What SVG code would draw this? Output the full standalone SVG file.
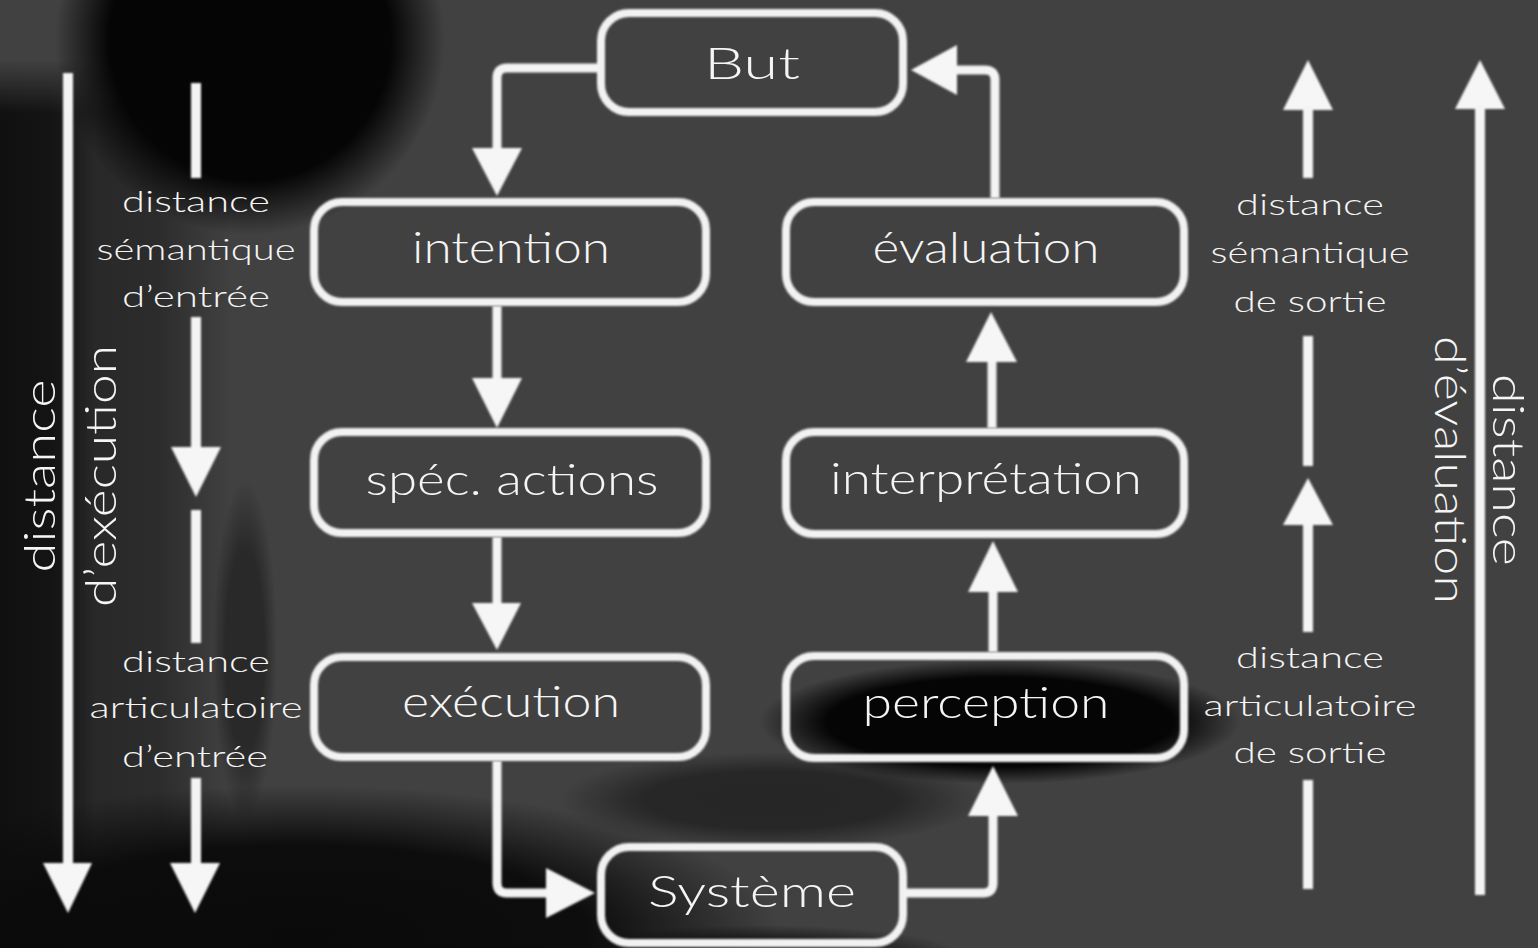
<svg xmlns="http://www.w3.org/2000/svg" width="1538" height="948" viewBox="0 0 1538 948">
  <defs>
    <radialGradient id="fadeBlack">
      <stop offset="0" stop-color="#050505" stop-opacity="1"/>
      <stop offset="0.72" stop-color="#050505" stop-opacity="1"/>
      <stop offset="1" stop-color="#050505" stop-opacity="0"/>
    </radialGradient>
    <radialGradient id="fadeDeep">
      <stop offset="0" stop-color="#0a0a0a" stop-opacity="1"/>
      <stop offset="0.6" stop-color="#0a0a0a" stop-opacity="0.95"/>
      <stop offset="1" stop-color="#0a0a0a" stop-opacity="0"/>
    </radialGradient>
    <linearGradient id="stripH" x1="0" y1="0" x2="1" y2="0">
      <stop offset="0" stop-color="#101010" stop-opacity="1"/>
      <stop offset="0.55" stop-color="#141414" stop-opacity="1"/>
      <stop offset="1" stop-color="#141414" stop-opacity="0"/>
    </linearGradient>
    <linearGradient id="stripTop" x1="0" y1="0" x2="0" y2="1">
      <stop offset="0" stop-color="#fff" stop-opacity="0"/>
      <stop offset="0.06" stop-color="#fff" stop-opacity="1"/>
    </linearGradient>
    <linearGradient id="bandH" x1="0" y1="0" x2="1" y2="0">
      <stop offset="0" stop-color="#262626" stop-opacity="1"/>
      <stop offset="0.6" stop-color="#2a2a2a" stop-opacity="0.9"/>
      <stop offset="1" stop-color="#2a2a2a" stop-opacity="0"/>
    </linearGradient>
    <mask id="topFade" maskUnits="userSpaceOnUse" x="0" y="0" width="1538" height="948">
      <rect x="0" y="60" width="300" height="888" fill="url(#stripTop)"/>
    </mask>
    <filter id="soft" filterUnits="userSpaceOnUse" x="0" y="0" width="1538" height="948">
      <feGaussianBlur stdDeviation="1.1"/>
    </filter>
    <style>
      .box { fill: none; stroke: #f2f2f2; stroke-width: 8; }
      .line { fill: none; stroke: #f4f4f4; stroke-width: 9; stroke-linejoin: round; }
      .side { fill: none; stroke: #f4f4f4; stroke-width: 10; }
      .head { fill: #f6f6f6; }
      .lbl { font-family: "Lato", "Liberation Sans", sans-serif; font-weight: 300; fill: #f5f5f5; font-size: 44px; text-anchor: middle; }
      .small { font-family: "Lato", "Liberation Sans", sans-serif; font-weight: 300; fill: #f5f5f5; font-size: 30px; text-anchor: middle; }
    </style>
  </defs>

  <!-- backdrop -->
  <rect x="0" y="0" width="1538" height="948" fill="#414141"/>
  <g id="backdrop">
    <g mask="url(#topFade)">
      <rect x="50" y="60" width="180" height="888" fill="url(#bandH)"/>
      <rect x="0" y="60" width="95" height="888" fill="url(#stripH)"/>
    </g>
    <ellipse cx="245" cy="650" rx="32" ry="170" fill="url(#fadeDeep)" opacity="0.45"/>
    <circle cx="250" cy="40" r="195" fill="url(#fadeBlack)"/>
    <ellipse cx="300" cy="935" rx="480" ry="150" fill="url(#fadeDeep)"/>
    <ellipse cx="1000" cy="722" rx="240" ry="62" fill="url(#fadeBlack)"/>
    <ellipse cx="770" cy="800" rx="210" ry="48" fill="url(#fadeDeep)" opacity="0.5"/>
    <ellipse cx="760" cy="955" rx="200" ry="30" fill="url(#fadeDeep)" opacity="0.6"/>
  </g>

  <!-- connectors -->
  <g id="connectors" filter="url(#soft)">
    <path class="line" d="M601,68 H507 Q497,68 497,78 V152"/>
    <polygon class="head" points="472,148 522,148 497,196"/>
    <path class="line" d="M497,306 V382"/>
    <polygon class="head" points="472,378 522,378 497,428"/>
    <path class="line" d="M497,537 V607"/>
    <polygon class="head" points="472,603 521,603 497,650"/>
    <path class="line" d="M497,761 V883 Q497,893 507,893 H550"/>
    <polygon class="head" points="546,868 546,918 595,893"/>
    <path class="line" d="M903,893 H983 Q993,893 993,883 V812"/>
    <polygon class="head" points="968,816 1018,816 993,766"/>
    <path class="line" d="M993,652 V588"/>
    <polygon class="head" points="968,592 1018,592 993,541"/>
    <path class="line" d="M992,428 V358"/>
    <polygon class="head" points="966,362 1017,362 991,312"/>
    <path class="line" d="M995,198 V80 Q995,70 985,70 H952"/>
    <polygon class="head" points="957,45 957,95 911,70"/>

    <!-- execution-side distances -->
    <path class="side" d="M68,73 V868"/>
    <polygon class="head" points="43,863 92,863 68,913"/>
    <path class="side" d="M196,83 V178 M196,317 V452 M196,510 V643 M196,778 V868"/>
    <polygon class="head" points="171,447 221,447 196,497"/>
    <polygon class="head" points="170,863 220,863 195,913"/>

    <!-- evaluation-side distances -->
    <polygon class="head" points="1283,110 1333,110 1308,60"/>
    <path class="side" d="M1308,105 V178 M1308,336 V466 M1308,520 V632 M1308,780 V889"/>
    <polygon class="head" points="1283,525 1333,525 1308,478"/>
    <polygon class="head" points="1455,109 1505,109 1480,60"/>
    <path class="side" d="M1480,105 V895"/>
  </g>

  <!-- nodes -->
  <g id="but">
    <rect class="box" x="601" y="13" width="302" height="99" rx="28" filter="url(#soft)"/>
    <text class="lbl" x="752" y="79" font-size="60" textLength="96" lengthAdjust="spacingAndGlyphs">But</text>
  </g>
  <g id="intention">
    <rect class="box" x="314" y="202" width="392" height="100" rx="28" filter="url(#soft)"/>
    <text class="lbl" x="511" y="263" textLength="198" lengthAdjust="spacingAndGlyphs">intention</text>
  </g>
  <g id="evaluation">
    <rect class="box" x="786" y="202" width="398" height="100" rx="28" filter="url(#soft)"/>
    <text class="lbl" x="986" y="263" textLength="227" lengthAdjust="spacingAndGlyphs">évaluation</text>
  </g>
  <g id="spec-actions">
    <rect class="box" x="314" y="432" width="392" height="101" rx="28" filter="url(#soft)"/>
    <text class="lbl" x="512" y="495" textLength="293" lengthAdjust="spacingAndGlyphs">spéc. actions</text>
  </g>
  <g id="interpretation">
    <rect class="box" x="786" y="432" width="398" height="102" rx="28" filter="url(#soft)"/>
    <text class="lbl" x="986" y="494" textLength="312" lengthAdjust="spacingAndGlyphs">interprétation</text>
  </g>
  <g id="execution">
    <rect class="box" x="314" y="657" width="392" height="100" rx="28" filter="url(#soft)"/>
    <text class="lbl" x="511" y="717" textLength="218" lengthAdjust="spacingAndGlyphs">exécution</text>
  </g>
  <g id="perception">
    <rect class="box" x="786" y="656" width="398" height="102" rx="28" filter="url(#soft)"/>
    <text class="lbl" x="986" y="718" textLength="247" lengthAdjust="spacingAndGlyphs">perception</text>
  </g>
  <g id="systeme">
    <rect class="box" x="601" y="847" width="302" height="96" rx="28" filter="url(#soft)"/>
    <text class="lbl" x="752" y="907" font-size="50" textLength="208" lengthAdjust="spacingAndGlyphs">Système</text>
  </g>

  <!-- distance labels -->
  <g id="dist-sem-in">
    <text class="small" x="196" y="212" textLength="148" lengthAdjust="spacingAndGlyphs">distance</text>
    <text class="small" x="196" y="260" textLength="199" lengthAdjust="spacingAndGlyphs">sémantique</text>
    <text class="small" x="196" y="307" textLength="148" lengthAdjust="spacingAndGlyphs">d’entrée</text>
  </g>
  <g id="dist-art-in">
    <text class="small" x="196" y="672" textLength="148" lengthAdjust="spacingAndGlyphs">distance</text>
    <text class="small" x="196" y="718" textLength="213" lengthAdjust="spacingAndGlyphs">articulatoire</text>
    <text class="small" x="195" y="767" textLength="146" lengthAdjust="spacingAndGlyphs">d’entrée</text>
  </g>
  <g id="dist-sem-out">
    <text class="small" x="1310" y="215" textLength="148" lengthAdjust="spacingAndGlyphs">distance</text>
    <text class="small" x="1310" y="263" textLength="199" lengthAdjust="spacingAndGlyphs">sémantique</text>
    <text class="small" x="1310" y="312" textLength="153" lengthAdjust="spacingAndGlyphs">de sortie</text>
  </g>
  <g id="dist-art-out">
    <text class="small" x="1310" y="668" textLength="148" lengthAdjust="spacingAndGlyphs">distance</text>
    <text class="small" x="1310" y="716" textLength="213" lengthAdjust="spacingAndGlyphs">articulatoire</text>
    <text class="small" x="1310" y="763" textLength="153" lengthAdjust="spacingAndGlyphs">de sortie</text>
  </g>
  <g id="dist-exec">
    <text class="lbl" transform="translate(55,476) rotate(-90)" textLength="193" lengthAdjust="spacingAndGlyphs">distance</text>
    <text class="lbl" transform="translate(116,476) rotate(-90)" textLength="262" lengthAdjust="spacingAndGlyphs">d’exécution</text>
  </g>
  <g id="dist-eval">
    <text class="lbl" transform="translate(1493,470) rotate(90)" textLength="192" lengthAdjust="spacingAndGlyphs">distance</text>
    <text class="lbl" transform="translate(1435,470) rotate(90)" textLength="268" lengthAdjust="spacingAndGlyphs">d’évaluation</text>
  </g>
</svg>
